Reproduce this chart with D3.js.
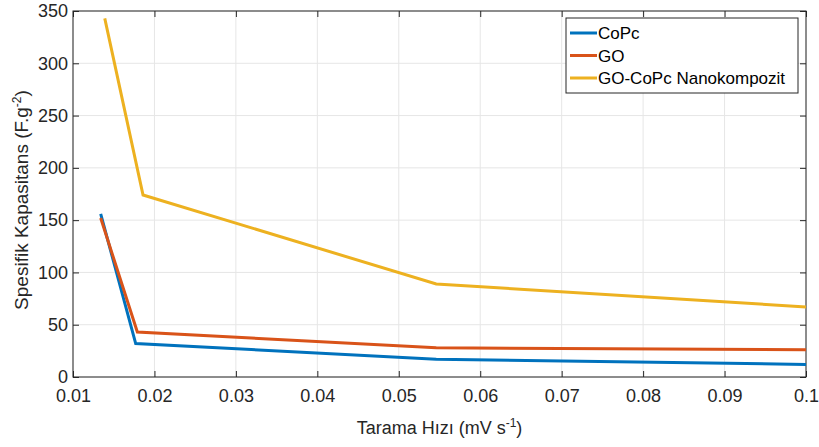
<!DOCTYPE html>
<html>
<head>
<meta charset="utf-8">
<script src="https://cdn.jsdelivr.net/npm/d3@7"></script>
<style>
  body { margin: 0; background: #fff; }
  text { font-family: "Liberation Sans", Arial, sans-serif; }
</style>
</head>
<body>
<div id="chart"></div>
<script>
// values
var seriesNames = ["CoPc", "GO", "GO-CoPc Nanokompozit"];
var seriesColors = ["#0072BD", "#D95319", "#EDB120"];
var copcX = [0.0134, 0.0177, 0.0546, 0.1];
var copcY = [156, 32, 17, 12];
var goX = [0.0134, 0.0179, 0.0546, 0.1];
var goY = [152, 43, 28, 26];
var nanoX = [0.0139, 0.0186, 0.0546, 0.1];
var nanoY = [343, 174, 89, 67];
var xTicks = [0.01, 0.02, 0.03, 0.04, 0.05, 0.06, 0.07, 0.08, 0.09, 0.1];
var yTicks = [0, 50, 100, 150, 200, 250, 300, 350];

var W = 819, H = 447;
var m = {left: 73, right: 13, top: 11, bottom: 70};
var pw = W - m.left - m.right, ph = H - m.top - m.bottom;

var svg = d3.select("#chart").append("svg").attr("width", W).attr("height", H);
var g = svg.append("g").attr("transform", "translate(" + m.left + "," + m.top + ")");

var x = d3.scaleLinear().domain([0.01, 0.1]).range([0, pw]);
var y = d3.scaleLinear().domain([0, 350]).range([ph, 0]);

// grid
g.selectAll(".gx").data(xTicks).enter().append("line")
  .attr("x1", d => x(d)).attr("x2", d => x(d)).attr("y1", 0).attr("y2", ph)
  .style("stroke", "#e6e6e6").style("stroke-width", 1);
g.selectAll(".gy").data(yTicks).enter().append("line")
  .attr("x1", 0).attr("x2", pw).attr("y1", d => y(d)).attr("y2", d => y(d))
  .style("stroke", "#e6e6e6").style("stroke-width", 1);

// axes (ticks inside, box on)
function styleAxis(sel) {
  sel.select(".domain").remove();
  sel.selectAll(".tick line").style("stroke", "#262626");
  sel.selectAll(".tick text").style("fill", "#262626").style("font-size", "18px");
}
var xfmt = d3.format("~g");
g.append("g").attr("transform", "translate(0," + ph + ")")
  .call(d3.axisBottom(x).tickValues(xTicks).tickSizeInner(-6).tickPadding(12).tickFormat(xfmt))
  .call(styleAxis);
g.append("g")
  .call(d3.axisTop(x).tickValues(xTicks).tickSizeInner(-6).tickFormat(""))
  .call(styleAxis);
g.append("g")
  .call(d3.axisLeft(y).tickValues(yTicks).tickSizeInner(-6).tickPadding(5))
  .call(styleAxis);
g.append("g").attr("transform", "translate(" + pw + ",0)")
  .call(d3.axisRight(y).tickValues(yTicks).tickSizeInner(-6).tickFormat(""))
  .call(styleAxis);
g.append("rect").attr("width", pw).attr("height", ph)
  .style("fill", "none").style("stroke", "#262626").style("stroke-width", 1);

// lines
var data = [
  d3.zip(copcX, copcY),
  d3.zip(goX, goY),
  d3.zip(nanoX, nanoY)
];
var line = d3.line().x(d => x(d[0])).y(d => y(d[1]));
g.selectAll(".series").data(data).enter().append("path")
  .attr("d", line)
  .style("fill", "none")
  .style("stroke", (d, i) => seriesColors[i])
  .style("stroke-width", 3);

// axis labels
var xl = svg.append("text").attr("x", m.left + pw / 2).attr("y", 434)
  .attr("text-anchor", "middle").style("font-size", "18px").style("fill", "#262626");
xl.append("tspan").text("Tarama Hızı (mV s");
xl.append("tspan").attr("dy", -7).style("font-size", "12px").text("-1");
xl.append("tspan").attr("dy", 7).text(")");

var yl = svg.append("text").attr("transform", "translate(28,200) rotate(-90)")
  .attr("text-anchor", "middle").style("font-size", "19px").style("fill", "#262626");
yl.append("tspan").text("Spesifik Kapasitans (F.g");
yl.append("tspan").attr("dy", -7).style("font-size", "12px").text("-2");
yl.append("tspan").attr("dy", 7).text(")");

// legend
var lg = svg.append("g").attr("transform", "translate(566,18)");
lg.append("rect").attr("width", 232).attr("height", 75)
  .style("fill", "#fff").style("stroke", "#262626").style("stroke-width", 1);
var items = lg.selectAll(".item").data(seriesNames).enter().append("g")
  .attr("transform", (d, i) => "translate(0," + (15 + i * 22.5) + ")");
items.append("line").attr("x1", 4).attr("x2", 31).attr("y1", 0).attr("y2", 0)
  .style("stroke", (d, i) => seriesColors[i]).style("stroke-width", 3);
items.append("text").attr("x", 32).attr("y", 6).text(d => d)
  .style("font-size", "17px").style("fill", "#000");
</script>
</body>
</html>
